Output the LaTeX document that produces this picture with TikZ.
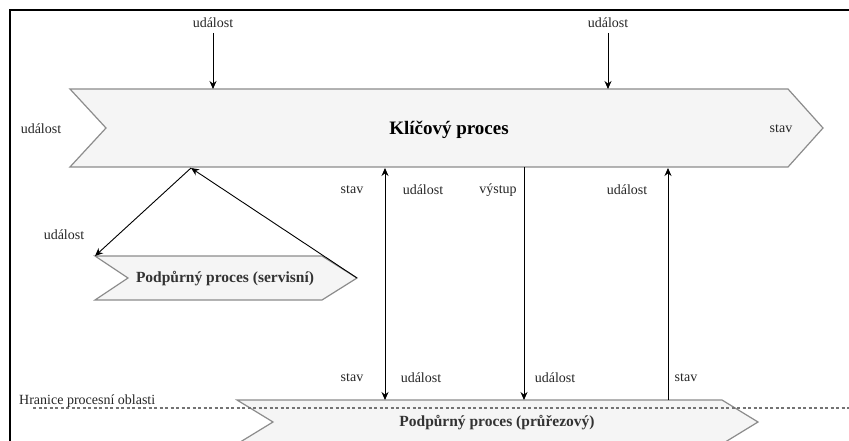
\documentclass[tikz,border=0pt]{standalone}
\usepackage{fontspec}
\setmainfont{Liberation Serif}
\usetikzlibrary{arrows.meta}
\definecolor{chevfill}{HTML}{F5F5F5}
\definecolor{chevline}{HTML}{8C8C8C}
\definecolor{subtext}{HTML}{333333}
\tikzset{
  chevron/.style={draw=chevline, fill=chevfill, line width=1.2pt, line join=miter},
  flow/.style={draw=black, line width=0.9pt, -{Stealth[length=8pt,width=7pt]}},
  biflow/.style={draw=black, line width=0.9pt, {Stealth[length=8pt,width=7pt]}-{Stealth[length=8pt,width=7pt]}},
  plainflow/.style={draw=black, line width=0.9pt},
  lbl/.style={font=\fontsize{14}{16}\selectfont, text=black!85, inner sep=0pt},
  maintitle/.style={font=\fontsize{19}{22}\selectfont\bfseries, inner sep=0pt},
  subtitle/.style={font=\fontsize{15.5}{18}\selectfont\bfseries, text=subtext, inner sep=0pt},
  boundary/.style={draw=black!55, line width=1.1pt, dash pattern=on 3pt off 2.5pt},
}
\begin{document}
\begin{tikzpicture}[x=1pt, y=-1pt]
  \useasboundingbox (0,0) rectangle (849,441);
  \fill[white] (0,0) rectangle (849,441);
  \clip (0,0) rectangle (849,441);

  % outer frame (only left and top edges fall inside the page)
  \draw[line width=2pt] (10,460) -- (10,10) -- (860,10);

  % key process
  \draw[chevron] (70,89) -- (788,89) -- (823,128) -- (788,167) -- (70,167) -- (106,128) -- cycle;
  \node[maintitle] (key) at (449,130) {Klíčový proces};

  % supporting service process
  \draw[chevron] (95,256) -- (322,256) -- (357,278) -- (322,300) -- (95,300) -- (128,278) -- cycle;
  \node[subtitle] (service) at (225,279) {Podpůrný proces (servisní)};

  % supporting cross-cutting process
  \draw[chevron] (237,400) -- (722,400) -- (758,422) -- (722,444) -- (237,444) -- (273,422) -- cycle;
  \node[subtitle] (cross) at (497,423) {Podpůrný proces (průřezový)};

  % process area boundary
  \coordinate (bndL) at (33,408);
  \coordinate (bndR) at (849,408);
  \draw[boundary] (bndL) -- (bndR);
  \node[lbl, anchor=west] (bndlbl) at (19,401) {Hranice procesní oblasti};

  % connector end points
  \coordinate (ev1top) at (213,33);
  \coordinate (ev1bot) at (213,89);
  \coordinate (ev2top) at (608,33);
  \coordinate (ev2bot) at (608,89);
  \coordinate (svcTop) at (191,168);
  \coordinate (svcIn) at (95,256);
  \coordinate (svcTip) at (357,278);
  \coordinate (bi1top) at (385,168);
  \coordinate (bi1bot) at (385,400);
  \coordinate (outTop) at (524,167);
  \coordinate (outBot) at (524,400);
  \coordinate (st2top) at (668,168);
  \coordinate (st2bot) at (668,400);

  % connectors
  \draw[flow] (ev1top) -- (ev1bot);
  \draw[flow] (ev2top) -- (ev2bot);
  \draw[flow] (svcTop) -- (svcIn);
  \draw[flow] (svcTip) -- (svcTop);
  \draw[biflow] (bi1bot) -- (bi1top);
  \draw[flow] (outTop) -- (outBot);
  \draw[flow] (st2bot) -- (st2top);

  % labels
  \node[lbl] (l1) at (213,23) {událost};
  \node[lbl] (l2) at (608,23) {událost};
  \node[lbl] (l3) at (41,129) {událost};
  \node[lbl] (l4) at (781,129) {stav};
  \node[lbl] (l5) at (64,235) {událost};
  \node[lbl] (l6) at (352,190) {stav};
  \node[lbl] (l7) at (423,190) {událost};
  \node[lbl] (l8) at (498,190) {výstup};
  \node[lbl] (l9) at (627,190) {událost};
  \node[lbl] (l10) at (352,378) {stav};
  \node[lbl] (l11) at (421,378) {událost};
  \node[lbl] (l12) at (555,378) {událost};
  \node[lbl] (l13) at (686,378) {stav};
\end{tikzpicture}
\end{document}
